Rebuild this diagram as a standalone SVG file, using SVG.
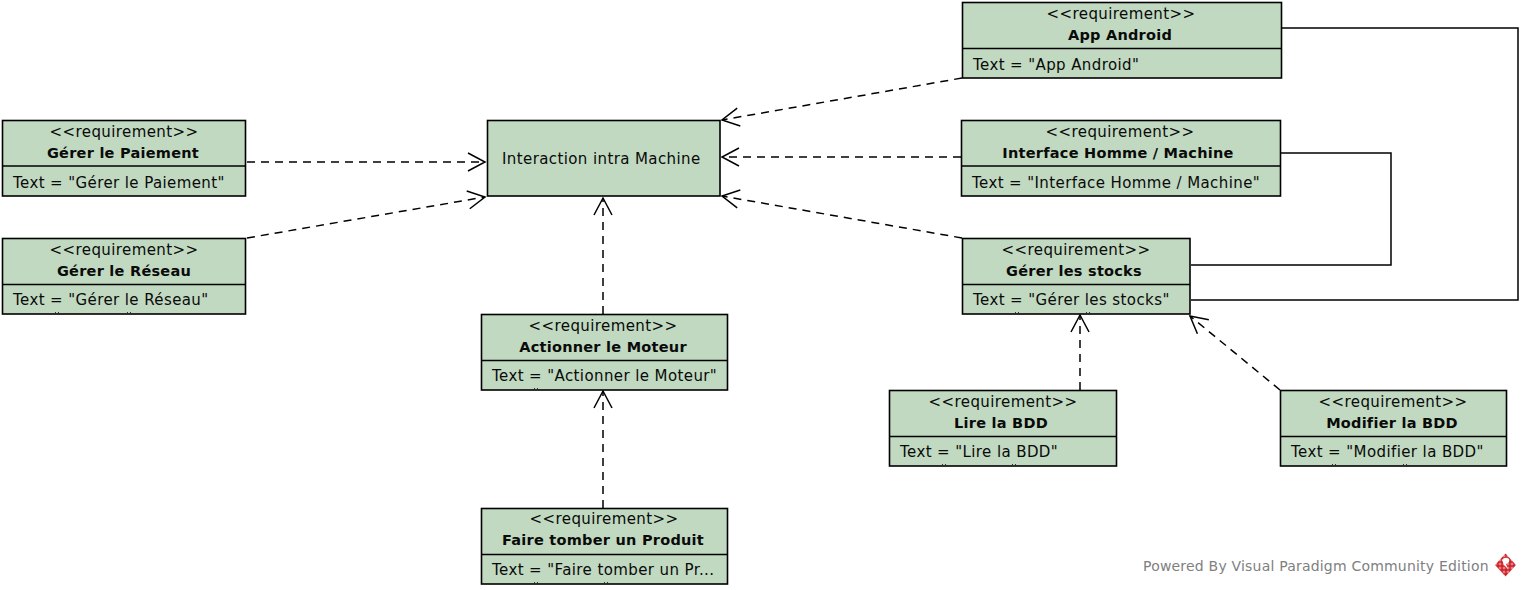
<svg xmlns="http://www.w3.org/2000/svg" width="1523" height="590" viewBox="0 0 1523 590">
<style>
text{font-family:"DejaVu Sans","Liberation Sans",sans-serif;font-size:15px;letter-spacing:.4px;fill:#0a0a0a}
.c{text-anchor:middle}
.b{font-weight:bold;font-size:14.5px;letter-spacing:.25px}
.box{fill:#c0d9c0;stroke:#000;stroke-width:1.6}
.div{stroke:#000;stroke-width:1.4}
.tick{fill:none;stroke:#333;stroke-width:1;stroke-dasharray:1 2}
.dash{fill:none;stroke:#000;stroke-width:1.5;stroke-dasharray:8 6;marker-end:url(#open)}
.solid{fill:none;stroke:#000;stroke-width:1.5}
.wm{font-size:14px;letter-spacing:.2px;fill:#808080}
</style>
<defs>
<marker id="open" markerUnits="userSpaceOnUse" markerWidth="20" markerHeight="22" refX="18" refY="10" orient="auto" viewBox="0 0 20 20">
<path d="M1 1L18 10L1 19" fill="none" stroke="#000" stroke-width="1.5"/>
</marker>
<pattern id="dither" width="4" height="4" patternUnits="userSpaceOnUse" x="1" y="1"><rect width="4" height="4" fill="#d43a40"/><rect width="2" height="2" fill="#c8242a"/><rect x="2" y="2" width="2" height="2" fill="#e67a7c"/></pattern>
</defs>
<g id="connectors">
<path class="dash" d="M247 162H485"/>
<path class="dash" d="M247 238L485 197"/>
<path class="dash" d="M603 314V198"/>
<path class="dash" d="M603 508V391"/>
<path class="dash" d="M962 78L722 120"/>
<path class="dash" d="M961 157H722"/>
<path class="dash" d="M962 238L722 196"/>
<path class="dash" d="M1080 390V315"/>
<path class="dash" d="M1280 390L1190 316"/>
<path class="solid" d="M1282 28H1518V300H1191"/>
<path class="solid" d="M1281 153H1391V265H1191"/>
</g>
<g id="n-paiement"><rect class="box" x="2.500" y="120.500" width="243" height="75.500"/><path class="div" d="M2.500 166H245.500"/><text class="c" x="124" y="137">&lt;&lt;requirement&gt;&gt;</text><text class="c b" x="123" y="157.500">Gérer le Paiement</text><text x="13" y="188">Text = "Gérer le Paiement"</text></g>
<g id="n-reseau"><rect class="box" x="2.500" y="238.500" width="243" height="75.500"/><path class="div" d="M2.500 284.500H245.500"/><text class="c" x="124" y="255">&lt;&lt;requirement&gt;&gt;</text><text class="c b" x="124" y="275.500">Gérer le Réseau</text><text x="13" y="305">Text = "Gérer le Réseau"</text><path class="tick" d="M55 312.500H60M127 312.500H131"/></g>
<g id="n-interaction"><rect class="box" x="487.500" y="120.500" width="232.500" height="75.500"/><text x="502" y="164">Interaction intra Machine</text></g>
<g id="n-moteur"><rect class="box" x="481.500" y="314.500" width="246" height="75.500"/><path class="div" d="M481.500 360.500H727.500"/><text class="c" x="603" y="331">&lt;&lt;requirement&gt;&gt;</text><text class="c b" x="603" y="351.500">Actionner le Moteur</text><text x="492" y="381">Text = "Actionner le Moteur"</text><path class="tick" d="M534 388.500H539"/></g>
<g id="n-produit"><rect class="box" x="481.500" y="508.500" width="246" height="75.500"/><path class="div" d="M481.500 554.500H727.500"/><text class="c" x="604" y="524">&lt;&lt;requirement&gt;&gt;</text><text class="c b" x="603" y="545">Faire tomber un Produit</text><text x="492" y="575">Text = "Faire tomber un Pr...</text><path class="tick" d="M534 582.500H539M604 582.500H608"/></g>
<g id="n-android"><rect class="box" x="962.500" y="2.500" width="319" height="75.500"/><path class="div" d="M962.500 48.500H1281.500"/><text class="c" x="1121" y="19">&lt;&lt;requirement&gt;&gt;</text><text class="c b" x="1120" y="39.500">App Android</text><text x="973" y="70">Text = "App Android"</text></g>
<g id="n-interface"><rect class="box" x="961.500" y="120.500" width="319" height="75.500"/><path class="div" d="M961.500 166H1280.500"/><text class="c" x="1120" y="137">&lt;&lt;requirement&gt;&gt;</text><text class="c b" x="1118" y="157.500">Interface Homme / Machine</text><text x="972" y="188">Text = "Interface Homme / Machine"</text></g>
<g id="n-stocks"><rect class="box" x="962.500" y="238.500" width="227.500" height="75.500"/><path class="div" d="M962.500 284.500H1190"/><text class="c" x="1076" y="255">&lt;&lt;requirement&gt;&gt;</text><text class="c b" x="1074" y="275.500">Gérer les stocks</text><text x="973" y="305">Text = "Gérer les stocks"</text><path class="tick" d="M1015 312.500H1020M1086 312.500H1090"/></g>
<g id="n-lire"><rect class="box" x="889.500" y="390.500" width="227" height="75.500"/><path class="div" d="M889.500 436.500H1116.500"/><text class="c" x="1003" y="407">&lt;&lt;requirement&gt;&gt;</text><text class="c b" x="1001" y="427.500">Lire la BDD</text><text x="900" y="457">Text = "Lire la BDD"</text><path class="tick" d="M942 464.500H947M1012 464.500H1016"/></g>
<g id="n-modifier"><rect class="box" x="1280.500" y="390.500" width="226" height="75.500"/><path class="div" d="M1280.500 436.500H1506.500"/><text class="c" x="1393" y="407">&lt;&lt;requirement&gt;&gt;</text><text class="c b" x="1392" y="427.500">Modifier la BDD</text><text x="1291" y="457">Text = "Modifier la BDD"</text><path class="tick" d="M1332 464.500H1337M1403 464.500H1407"/></g>
<g id="watermark"><text class="wm" x="1143" y="571">Powered By Visual Paradigm Community Edition</text><path d="M1505.500 553.500L1516 565L1505.500 576.500L1495 565Z" fill="url(#dither)"/><path d="M1502 560Q1505 556 1509 559Q1510 563 1506 564L1508 569L1504 565Z" fill="#fff"/></g>
</svg>
